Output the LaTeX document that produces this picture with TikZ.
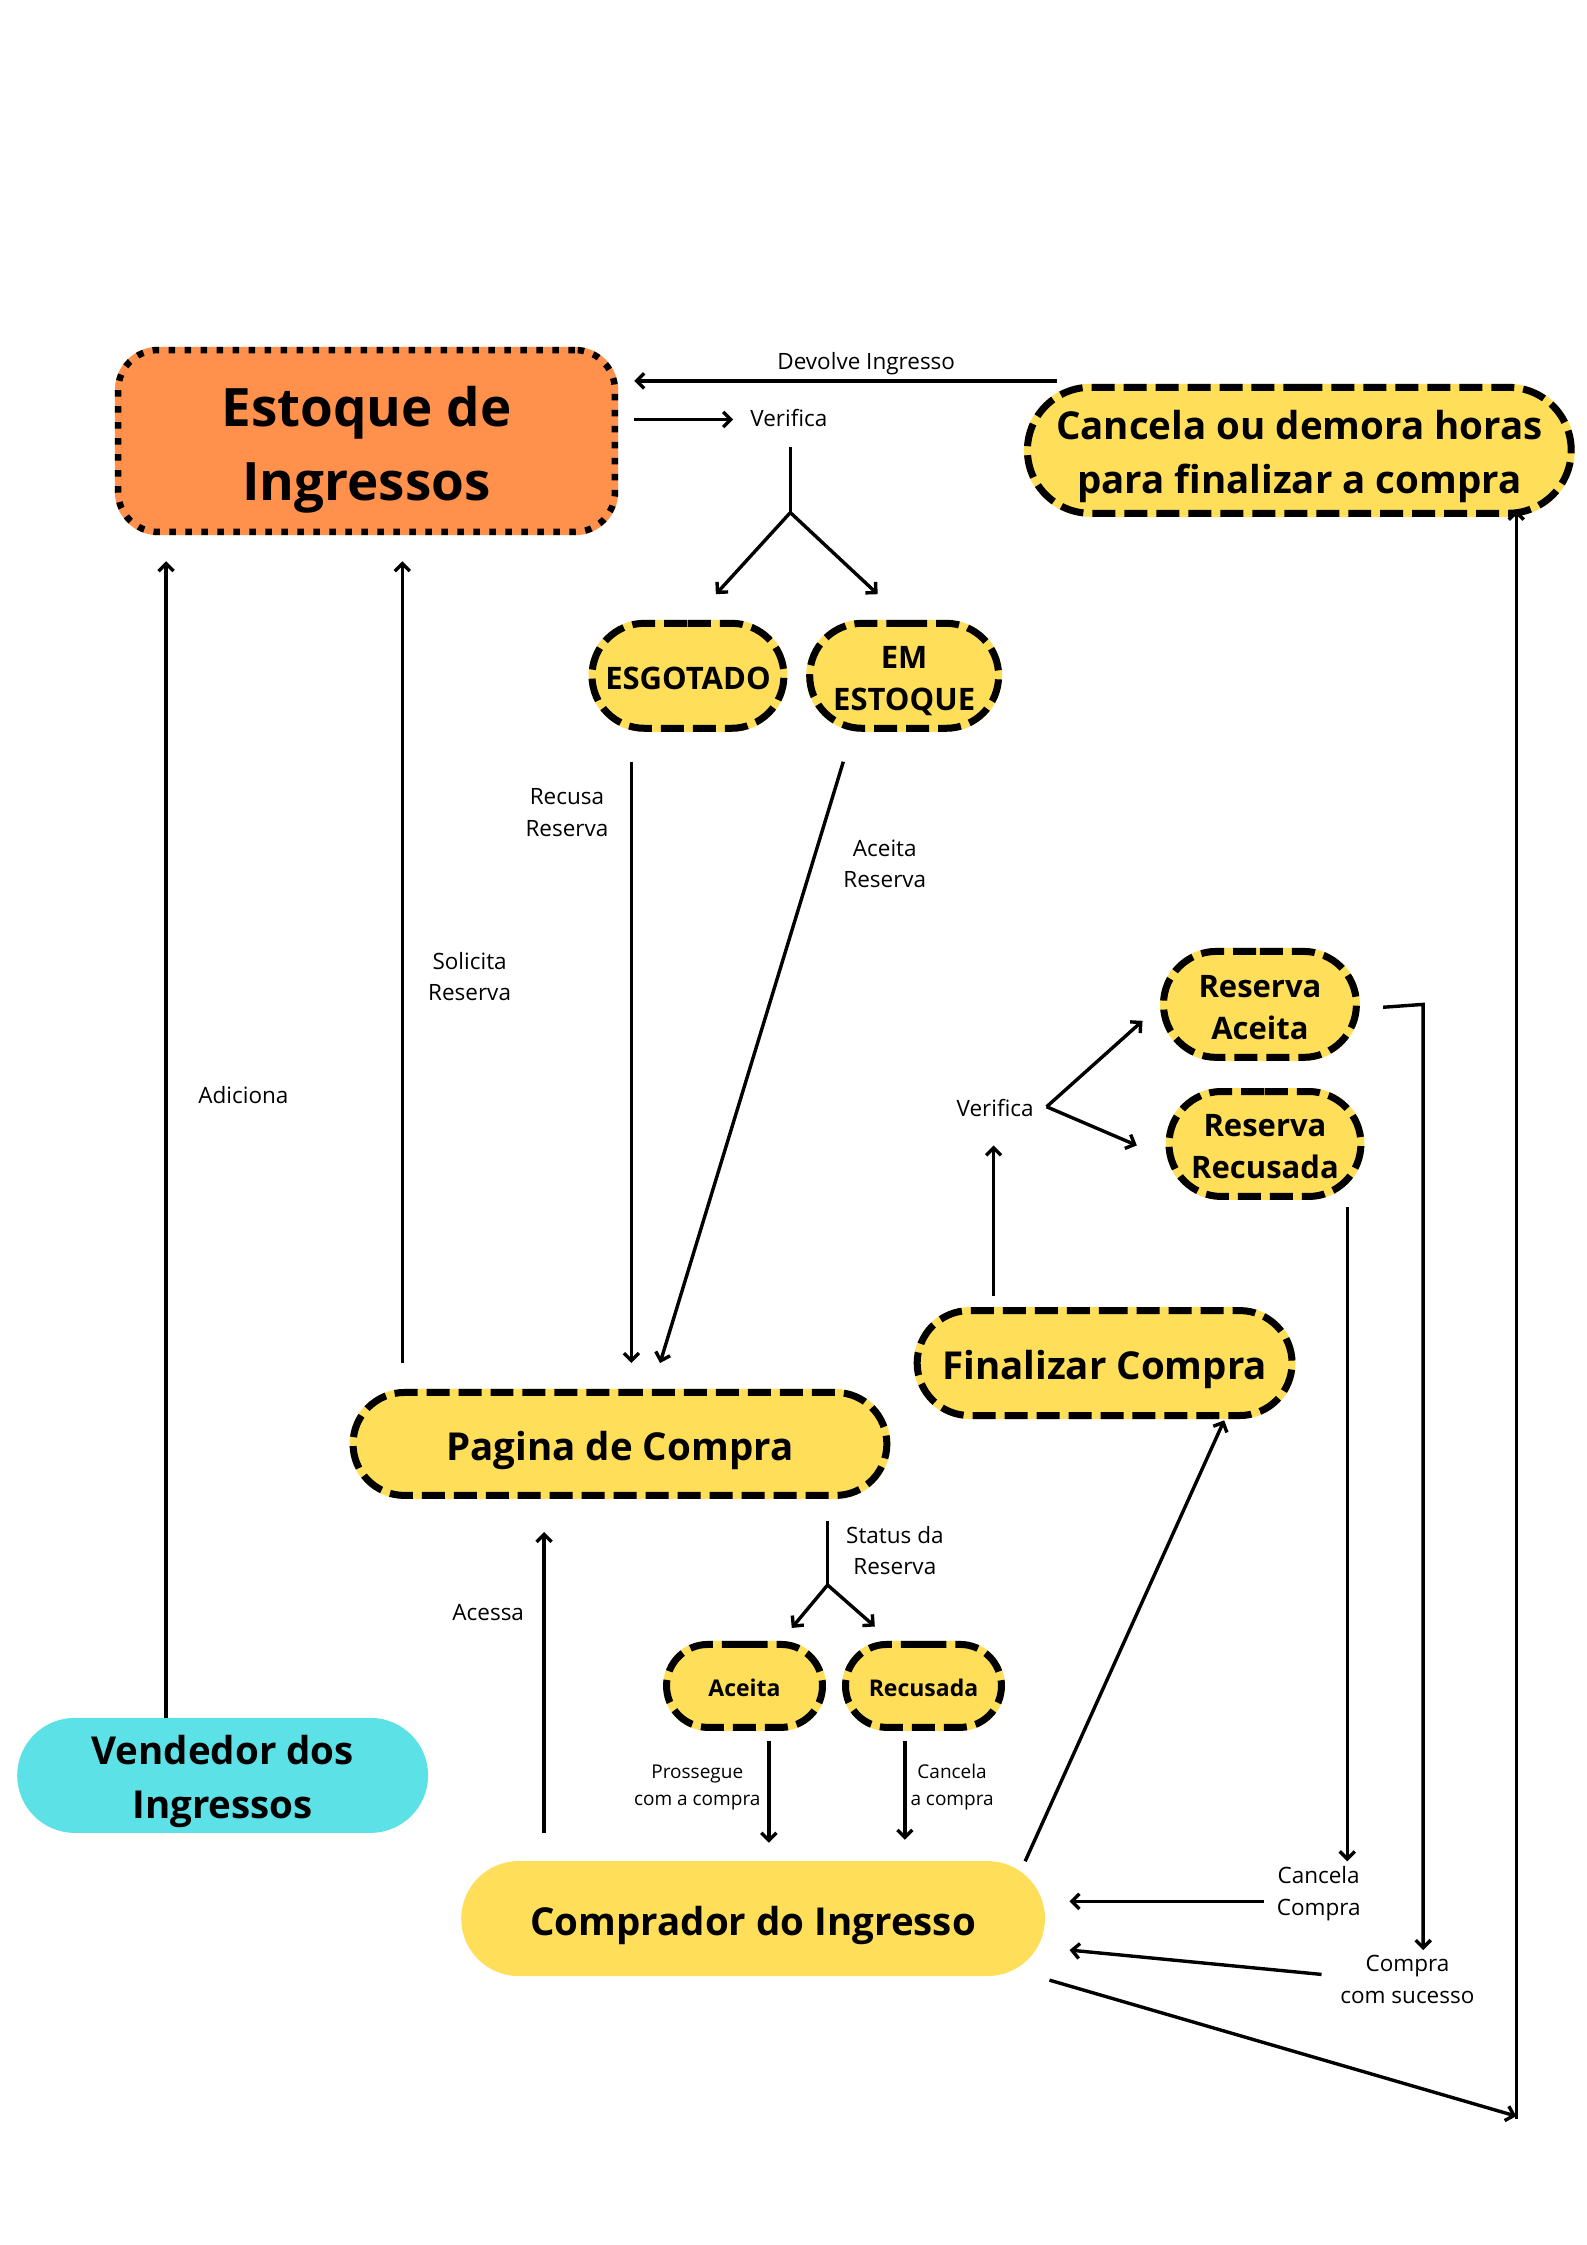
\documentclass[tikz,border=0pt]{standalone}
\usepackage{fontspec}
\setmainfont{Open Sans}
\usetikzlibrary{arrows.meta,shapes.misc}
\definecolor{ylw}{HTML}{FFDE59}
\definecolor{org}{HTML}{FF914D}
\definecolor{cyn}{HTML}{5CE1E6}
\newcommand\vs{\rule[-0.21em]{0pt}{1.31em}}
\begin{document}
\begin{tikzpicture}[x=1.4323pt,y=-1.4323pt,
  conn/.style={line width=3.4pt,-{Straight Barb[length=7.5pt,width=15pt]}},
  plain/.style={line width=3.4pt},
  dashbox/.style={rounded rectangle, fill=ylw, draw=black, line width=7pt,
     dash pattern=on 23pt off 9pt,
     preaction={draw=ylw, line width=7pt, solid},
     align=center, inner sep=0pt},
  flatbox/.style={rounded rectangle, fill=#1, draw=none, align=center, inner sep=0pt},
  bigf/.style={font=\fontsize{38.5}{54}\selectfont\bfseries},
  midf/.style={font=\fontsize{31}{42}\selectfont\bfseries},
  smf/.style={font=\fontsize{23}{30}\selectfont\bfseries},
  lbl/.style={font=\fontsize{22.5}{31.5}\selectfont, align=center, inner sep=0pt},
  slbl/.style={font=\fontsize{19}{27}\selectfont, align=center, inner sep=0pt},
]
\path[use as bounding box, fill=white] (0,0) rectangle (1108,1568);

% ---------- nodes ----------
\node[rectangle, rounded corners=40pt, fill=org, draw=black, line width=6.5pt,
  dash pattern=on 6.5pt off 9.5pt, preaction={draw=org, line width=6.5pt, solid},
  minimum width=497pt, minimum height=182pt, align=center, inner sep=0pt,
  font=\fontsize{53}{74}\selectfont\bfseries] (estoque) at (256,308) {\vs Estoque de\\\vs Ingressos};

\node[dashbox, bigf, minimum width=536pt, minimum height=126pt] (cancela) at (907.5,314.5)
  {\vs Cancela ou demora horas\\\vs para finalizar a compra};

\node[dashbox, midf, minimum width=192pt, minimum height=105pt] (esgot) at (480.5,472) {\vs ESGOTADO};
\node[dashbox, midf, minimum width=189pt, minimum height=105pt] (emest) at (631.5,472) {\vs EM\\\vs ESTOQUE};

\node[dashbox, bigf, minimum width=534pt, minimum height=103pt] (pagina) at (433,1008.5) {\vs Pagina de Compra};

\node[dashbox, smf, minimum width=156pt, minimum height=83pt] (aceita) at (520,1177.5) {\vs Aceita};
\node[dashbox, smf, minimum width=156pt, minimum height=83pt] (recus) at (645,1177.5) {\vs Recusada};

\node[dashbox, bigf, minimum width=375pt, minimum height=105pt] (final) at (771.5,952) {\vs Finalizar Compra};

\node[dashbox, midf, minimum width=193pt, minimum height=106pt] (resac) at (880,701.5) {\vs Reserva\\\vs Aceita};
\node[dashbox, midf, minimum width=192pt, minimum height=105pt] (resrec) at (883.5,799) {\vs Reserva\\\vs Recusada};

\node[flatbox=ylw, bigf, minimum width=584pt, minimum height=115pt] (compr) at (526,1340) {\vs Comprador do Ingresso};
\node[flatbox=cyn, bigf, minimum width=411pt, minimum height=115pt] (vend) at (155.5,1240) {\vs Vendedor dos\\\vs Ingressos};

% ---------- labels ----------
\node[lbl] (lDev) at (605,251) {\vs Devolve Ingresso};
\node[lbl] (lVer1) at (551,291) {\vs Verifica};
\node[lbl] (lRec) at (396,566) {\vs Recusa\\\vs Reserva};
\node[lbl] (lAce) at (618,602) {\vs Aceita\\\vs Reserva};
\node[lbl] (lSol) at (328,681) {\vs Solicita\\\vs Reserva};
\node[lbl] (lAdi) at (170,764) {\vs Adiciona};
\node[lbl] (lAcs) at (341,1125) {\vs Acessa};
\node[lbl] (lSta) at (625,1082) {\vs Status da\\\vs Reserva};
\node[slbl] (lPro) at (487,1246) {\vs Prossegue\\\vs com a compra};
\node[slbl] (lCan) at (665,1246) {\vs Cancela\\\vs a compra};
\node[lbl] (lVer2) at (695,773) {\vs Verifica};
\node[lbl] (lCC) at (921,1320) {\vs Cancela\\\vs Compra};
\node[lbl] (lCS) at (983,1381) {\vs Compra\\\vs com sucesso};

% ---------- connector end points ----------
\coordinate (a1) at (738,266);  \coordinate (b1) at (443,266);
\coordinate (a2) at (443,293);  \coordinate (b2) at (512,293);
\coordinate (v0) at (552,312);  \coordinate (v1) at (552,358);
\coordinate (v2) at (500,415);  \coordinate (v3) at (613,415);
\coordinate (a4) at (441,532);  \coordinate (b4) at (441,952);
\coordinate (a5) at (589,532);  \coordinate (b5) at (461,952);
\coordinate (a6) at (281,952);  \coordinate (b6) at (281,392);
\coordinate (a7) at (116,1200); \coordinate (b7) at (116,392);
\coordinate (a8) at (380,1280); \coordinate (b8) at (380,1070);
\coordinate (s0) at (578,1062); \coordinate (s1) at (578,1107);
\coordinate (s2) at (553,1137); \coordinate (s3) at (611,1136);
\coordinate (a10) at (537,1216); \coordinate (b10) at (537,1287);
\coordinate (a11) at (632,1216); \coordinate (b11) at (632,1285);
\coordinate (a12) at (716,1300); \coordinate (b12) at (855,992);
\coordinate (a13) at (694,905); \coordinate (b13) at (694,800);
\coordinate (f0) at (731,773);  \coordinate (f1) at (798,713); \coordinate (f2) at (794,800);
\coordinate (r0) at (966,703.5); \coordinate (r1) at (994,701.5); \coordinate (r2) at (994,1362);
\coordinate (q0) at (941,843);  \coordinate (q1) at (941,1300);
\coordinate (a17) at (883,1328); \coordinate (b17) at (747,1328);
\coordinate (a18) at (923,1379); \coordinate (b18) at (747,1362);
\coordinate (a19) at (733,1383); \coordinate (k1) at (1059,1478);
\coordinate (k2) at (1059,1480); \coordinate (b19) at (1059,356);

% ---------- connectors ----------
\draw[conn] (a1) -- (b1);
\draw[conn] (a2) -- (b2);
\draw[plain] (v0) -- (v1);
\draw[conn] (v1) -- (v2);
\draw[conn] (v1) -- (v3);
\draw[conn] (a4) -- (b4);
\draw[conn] (a5) -- (b5);
\draw[conn] (a6) -- (b6);
\draw[conn] (a7) -- (b7);
\draw[conn] (a8) -- (b8);
\draw[plain] (s0) -- (s1);
\draw[conn] (s1) -- (s2);
\draw[conn] (s1) -- (s3);
\draw[conn] (a10) -- (b10);
\draw[conn] (a11) -- (b11);
\draw[conn] (a12) -- (b12);
\draw[conn] (a13) -- (b13);
\draw[conn] (f0) -- (f1);
\draw[conn] (f0) -- (f2);
\draw[conn, line join=miter] (r0) -- (r1) -- (r2);
\draw[conn] (q0) -- (q1);
\draw[conn] (a17) -- (b17);
\draw[conn] (a18) -- (b18);
\draw[conn] (a19) -- (k1);
\draw[conn] (k2) -- (b19);
\end{tikzpicture}
\end{document}
